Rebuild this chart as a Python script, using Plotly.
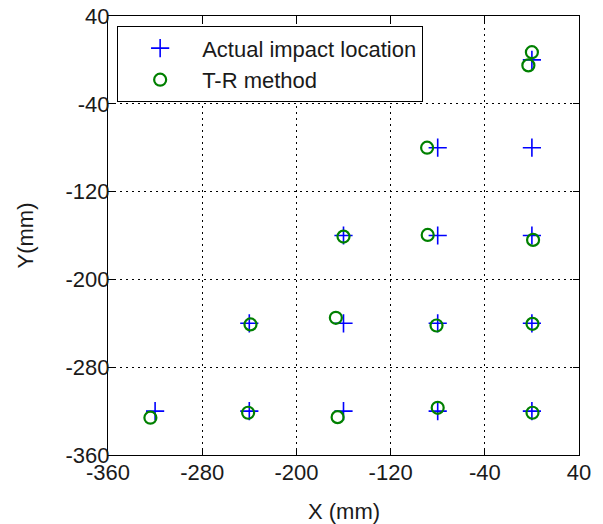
import plotly.graph_objects as go

# Actual impact locations (mm)
actual_x = [0, -80, 0, -160, -80, 0, -240, -160, -80, 0, -320, -240, -160, -80, 0]
actual_y = [0, -80, -80, -160, -160, -160, -240, -240, -240, -240, -320, -320, -320, -320, -320]

# T-R method estimates (mm)
tr_x = [0, -3, -89, -160, -88.5, 1, -239, -166.5, -81, 0.5, -324, -241, -165, -80, 0.5]
tr_y = [7, -5, -80, -161, -159.5, -164, -241, -235, -242, -240.5, -326, -321.5, -325.5, -317, -321.5]

tick_vals = [-360, -280, -200, -120, -40, 40]

FONT = "Arial, Liberation Sans, sans-serif"
TXT = "#1a1a1a"

fig = go.Figure()
fig.add_trace(go.Scatter(
    x=actual_x, y=actual_y, mode="markers", name="Actual impact location",
    marker=dict(symbol="cross-thin", size=13, line=dict(color="#0000ff", width=1.6)),
))
fig.add_trace(go.Scatter(
    x=tr_x, y=tr_y, mode="markers", name="T-R method",
    marker=dict(symbol="circle-open", size=12, color="#008000", line=dict(color="#008000", width=2.2)),
))

axis_common = dict(
    tickvals=tick_vals,
    ticktext=[str(v) for v in tick_vals],
    showgrid=True, gridcolor="black", gridwidth=1, griddash="2px,4px",
    zeroline=False,
    showline=True, linecolor="black", linewidth=1.2, mirror="ticks",
    ticks="inside", ticklen=6, tickcolor="black", tickwidth=1,
    tickfont=dict(family=FONT, size=22, color=TXT),
    automargin=False,
)

fig.update_xaxes(range=[-360, 40], ticklabelstandoff=-3, **axis_common)
fig.update_yaxes(range=[-360, 40], ticklabelstandoff=-7, **axis_common)

fig.add_annotation(text="X (mm)", xref="paper", yref="paper", x=0.5, y=0,
                   xanchor="center", yanchor="middle", yshift=-56, showarrow=False,
                   font=dict(family=FONT, size=22, color=TXT))
fig.add_annotation(text="Y(mm)", xref="paper", yref="paper", x=0, y=0.5,
                   xanchor="center", yanchor="middle", xshift=-83, textangle=-90, showarrow=False,
                   font=dict(family=FONT, size=22, color=TXT))

fig.update_layout(
    width=603, height=524,
    margin=dict(l=108, r=24, t=16, b=69),
    paper_bgcolor="white", plot_bgcolor="white",
    font=dict(family=FONT, size=22, color=TXT),
    showlegend=True,
    legend=dict(
        x=0.019, y=0.977, xanchor="left", yanchor="top",
        bgcolor="white", bordercolor="black", borderwidth=1.2,
        font=dict(family=FONT, size=22, color=TXT),
        itemwidth=74,
    ),
)

fig.write_html("out.html")
